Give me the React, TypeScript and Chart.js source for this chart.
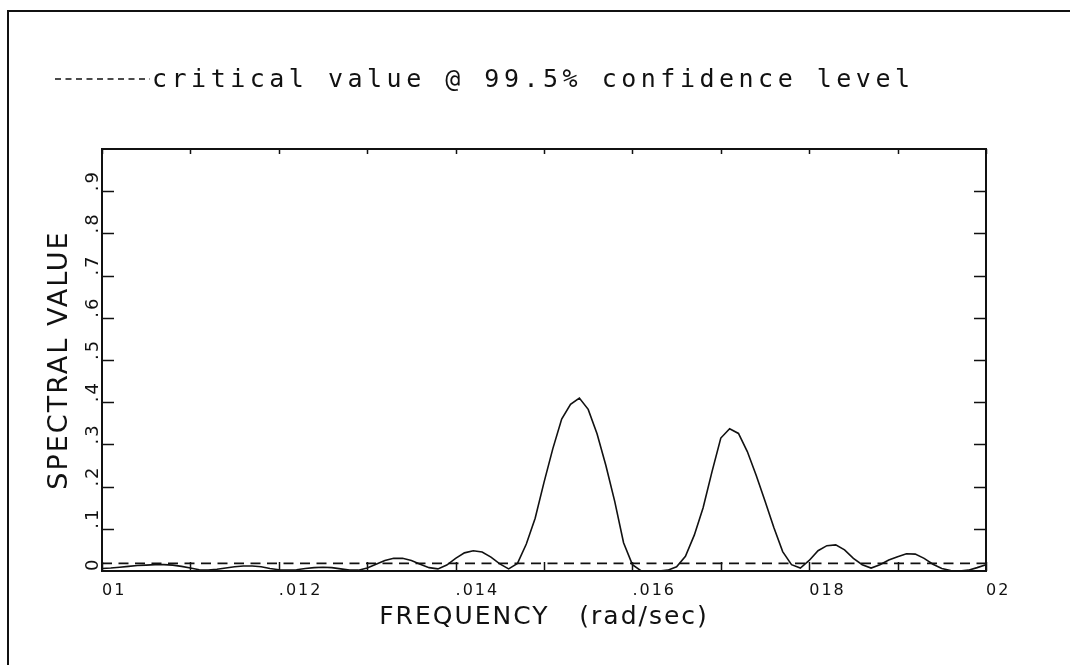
import React, { useEffect, useRef } from 'react';
import { Chart, registerables } from 'chart.js';

Chart.register(...registerables);

// ---- data ----
const FREQUENCIES = [
  0.0100, 0.0101, 0.0102, 0.0103, 0.0104, 0.0105, 0.0106, 0.0107, 0.0108, 0.0109,
  0.0110, 0.0111, 0.0112, 0.0113, 0.0114, 0.0115, 0.0116, 0.0117, 0.0118, 0.0119,
  0.0120, 0.0121, 0.0122, 0.0123, 0.0124, 0.0125, 0.0126, 0.0127, 0.0128, 0.0129,
  0.0130, 0.0131, 0.0132, 0.0133, 0.0134, 0.0135, 0.0136, 0.0137, 0.0138, 0.0139,
  0.0140, 0.0141, 0.0142, 0.0143, 0.0144, 0.0145, 0.0146, 0.0147, 0.0148, 0.0149,
  0.0150, 0.0151, 0.0152, 0.0153, 0.0154, 0.0155, 0.0156, 0.0157, 0.0158, 0.0159,
  0.0160, 0.0161, 0.0162, 0.0163, 0.0164, 0.0165, 0.0166, 0.0167, 0.0168, 0.0169,
  0.0170, 0.0171, 0.0172, 0.0173, 0.0174, 0.0175, 0.0176, 0.0177, 0.0178, 0.0179,
  0.0180, 0.0181, 0.0182, 0.0183, 0.0184, 0.0185, 0.0186, 0.0187, 0.0188, 0.0189,
  0.0190, 0.0191, 0.0192, 0.0193, 0.0194, 0.0195, 0.0196, 0.0197, 0.0198, 0.0199,
  0.0200,
];

const SPECTRAL_VALUES = [
  0.006, 0.007, 0.009, 0.011, 0.013, 0.014, 0.015, 0.015, 0.014, 0.011,
  0.007, 0.003, 0.002, 0.004, 0.007, 0.010, 0.012, 0.012, 0.010, 0.006,
  0.003, 0.002, 0.003, 0.006, 0.008, 0.009, 0.008, 0.005, 0.002, 0.002,
  0.007, 0.016, 0.025, 0.030, 0.030, 0.025, 0.016, 0.008, 0.005, 0.014,
  0.030, 0.043, 0.048, 0.045, 0.033, 0.017, 0.005, 0.018, 0.064, 0.125,
  0.210, 0.290, 0.360, 0.395, 0.410, 0.383, 0.325, 0.250, 0.165, 0.067,
  0.015, 0.000, 0.000, 0.000, 0.002, 0.010, 0.035, 0.085, 0.150, 0.235,
  0.315, 0.337, 0.326, 0.283, 0.227, 0.166, 0.103, 0.046, 0.015, 0.007,
  0.025, 0.048, 0.060, 0.062, 0.050, 0.030, 0.015, 0.007, 0.015, 0.026,
  0.034, 0.041, 0.040, 0.030, 0.016, 0.006, 0.001, 0.000, 0.002, 0.008,
  0.015,
];

const CRITICAL_VALUE = 0.018;

const X_TICK_VALUES = [0.010, 0.012, 0.014, 0.016, 0.018, 0.020];
const X_TICK_LABELS = ['01', '.012', '.014', '.016', '018', '02'];
const X_MINOR_TICK_VALUES = [0.010, 0.011, 0.012, 0.013, 0.014, 0.015, 0.016, 0.017, 0.018, 0.019, 0.020];

const Y_TICK_VALUES = [0, 0.1, 0.2, 0.3, 0.4, 0.5, 0.6, 0.7, 0.8, 0.9];
const Y_TICK_LABELS = ['0', '.1', '.2', '.3', '.4', '.5', '.6', '.7', '.8', '.9'];

const LEGEND_LABEL = 'critical value @ 99.5% confidence level';
const SERIES_LABEL = 'spectral value';
const X_TITLE = 'FREQUENCY   (rad/sec)';
const Y_TITLE = 'SPECTRAL VALUE';

const INK = '#111111';

const decorPlugin = {
  id: 'decor',
  beforeDraw(chart: any) {
    (chart.ctx as any).letterSpacing = '2px';
  },
  afterDraw(chart: any) {
    const { ctx, chartArea: a, scales } = chart;
    const x = scales.x;
    const y = scales.y;
    ctx.save();
    (ctx as any).letterSpacing = '0px';
    ctx.strokeStyle = INK;
    ctx.setLineDash([]);

    // plot box
    ctx.lineWidth = 2;
    ctx.strokeRect(a.left, a.top, a.right - a.left, a.bottom - a.top);

    // inward tick marks
    ctx.lineWidth = 1.5;
    ctx.beginPath();
    X_MINOR_TICK_VALUES.forEach((v) => {
      const px = Math.round(x.getPixelForValue(v)) + 0.5;
      ctx.moveTo(px, a.bottom);
      ctx.lineTo(px, a.bottom - 9);
      ctx.moveTo(px, a.top);
      ctx.lineTo(px, a.top + 5);
    });
    Y_TICK_VALUES.slice(1).forEach((v) => {
      const py = Math.round(y.getPixelForValue(v)) + 0.5;
      ctx.moveTo(a.left, py);
      ctx.lineTo(a.left + 12, py);
      ctx.moveTo(a.right, py);
      ctx.lineTo(a.right - 12, py);
    });
    ctx.stroke();

    // outer page frame
    ctx.lineWidth = 2;
    ctx.beginPath();
    ctx.moveTo(8, chart.height);
    ctx.lineTo(8, 11);
    ctx.lineTo(chart.width, 11);
    ctx.stroke();

    // legend for the critical value line
    const ds = chart.data.datasets[1];
    ctx.lineWidth = 1.5;
    ctx.setLineDash([6, 4.5]);
    ctx.beginPath();
    ctx.moveTo(55, 79);
    ctx.lineTo(150, 79);
    ctx.stroke();
    ctx.setLineDash([]);
    (ctx as any).letterSpacing = '4.5px';
    ctx.fillStyle = INK;
    ctx.font = '25px "DejaVu Sans Mono", monospace';
    ctx.textAlign = 'left';
    ctx.textBaseline = 'alphabetic';
    ctx.fillText(ds.label, 152, 87);
    ctx.restore();
  },
};

export default function App() {
  const canvasRef = useRef<HTMLCanvasElement | null>(null);

  useEffect(() => {
    const canvas = canvasRef.current;
    if (!canvas) return;
    const chart = new Chart(canvas, {
      type: 'line',
      data: {
        datasets: [
          {
            label: SERIES_LABEL,
            data: FREQUENCIES.map((f, i) => ({ x: f, y: SPECTRAL_VALUES[i] })),
            borderColor: INK,
            borderWidth: 1.6,
            pointRadius: 0,
            tension: 0,
            fill: false,
            clip: 4,
          },
          {
            label: LEGEND_LABEL,
            data: [
              { x: FREQUENCIES[0], y: CRITICAL_VALUE },
              { x: FREQUENCIES[FREQUENCIES.length - 1], y: CRITICAL_VALUE },
            ],
            borderColor: INK,
            borderWidth: 1.6,
            borderDash: [10, 6.5],
            pointRadius: 0,
            fill: false,
          },
        ],
      },
      options: {
        animation: false,
        responsive: false,
        devicePixelRatio: 1,
        layout: { padding: { left: 93, right: 84, top: 149, bottom: 0 } },
        plugins: {
          legend: { display: false },
          tooltip: { enabled: false },
          title: { display: false },
        },
        scales: {
          x: {
            type: 'linear',
            min: 0.01,
            max: 0.02,
            grid: { display: false, drawTicks: false },
            border: { display: false },
            afterBuildTicks: (s: any) => {
              s.ticks = X_TICK_VALUES.map((v) => ({ value: v }));
            },
            afterFit: (s: any) => {
              s.height = 94;
            },
            ticks: {
              autoSkip: false,
              maxRotation: 0,
              minRotation: 0,
              align: 'start',
              padding: 10,
              color: INK,
              font: { family: '"DejaVu Sans", sans-serif', size: 16 },
              callback: (_v: any, i: number) => X_TICK_LABELS[i],
            },
            title: {
              display: true,
              text: X_TITLE,
              color: INK,
              font: { family: '"DejaVu Sans", sans-serif', size: 25 },
              padding: { top: 0, bottom: 33 },
            },
          },
          y: {
            type: 'linear',
            min: 0,
            max: 1,
            grid: { display: false, drawTicks: false },
            border: { display: false },
            afterBuildTicks: (s: any) => {
              s.ticks = Y_TICK_VALUES.map((v) => ({ value: v }));
            },
            afterFit: (s: any) => {
              s.width = 9;
            },
            ticks: {
              autoSkip: false,
              minRotation: 90,
              maxRotation: 90,
              mirror: true,
              crossAlign: 'near',
              padding: -9,
              color: INK,
              font: { family: '"DejaVu Sans", sans-serif', size: 18 },
              callback: (_v: any, i: number) => Y_TICK_LABELS[i],
            },
            title: {
              display: true,
              text: Y_TITLE,
              color: INK,
              font: { family: '"DejaVu Sans", sans-serif', size: 27 },
              padding: { top: -49, bottom: 0 },
            },
          },
        },
      } as any,
      plugins: [decorPlugin],
    });
    return () => chart.destroy();
  }, []);

  return (
    <div style={{ position: 'absolute', left: 0, top: 0, width: 1070, height: 665, background: '#fff' }}>
      <canvas ref={canvasRef} width={1070} height={665} style={{ display: 'block' }} />
    </div>
  );
}
